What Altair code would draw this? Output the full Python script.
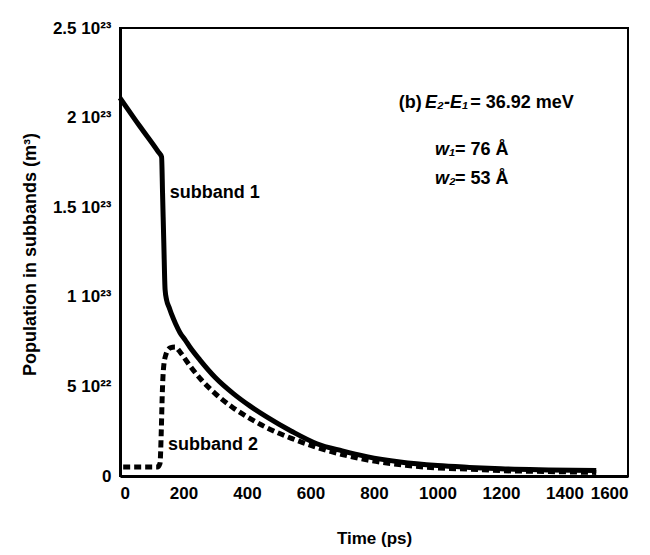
import json
import altair as alt
import pandas as pd

# ---- data (population in units of 1e23 m^-3) ----
time1 = [0, 63, 120, 131, 134, 138, 142, 147, 155, 163, 175, 189, 205, 220, 252, 300, 357, 410, 462, 540, 620, 700, 777, 882, 1000, 1100, 1200, 1350, 1500]
pop1 = [2.11, 1.95, 1.81, 1.78, 1.58, 1.30, 1.04, 0.98, 0.94, 0.90, 0.85, 0.80, 0.76, 0.72, 0.647, 0.55, 0.46, 0.39, 0.33, 0.25, 0.18, 0.14, 0.108, 0.078, 0.058, 0.048, 0.04, 0.034, 0.03]

time2 = [10, 118, 126, 130, 133, 137, 145, 158, 173, 190, 210, 252, 300, 357, 410, 462, 540, 620, 700, 777, 900, 1000, 1100, 1200, 1350, 1500]
pop2 = [0.05, 0.05, 0.07, 0.25, 0.45, 0.60, 0.68, 0.715, 0.72, 0.69, 0.64, 0.545, 0.46, 0.38, 0.32, 0.27, 0.21, 0.16, 0.12, 0.09, 0.06, 0.045, 0.038, 0.03, 0.025, 0.02]

x_ticks = [0, 200, 400, 600, 800, 1000, 1200, 1400, 1600]
y_ticks = [0, 0.5, 1.0, 1.5, 2.0, 2.5]
y_tick_labels = ["0", "5 10²²", "1 10²³", "1.5 10²³", "2 10²³", "2.5 10²³"]

# annotation texts
ann_text = ["(b)", "= 36.92 meV", "= 76 Å", "= 53 Å", "subband 1", "subband 2"]
ann_x = [878, 1103, 1055, 1055, 157, 151]
ann_y = [2.08, 2.08, 1.82, 1.657, 1.58, 0.173]
ital_text = ["E₂-E₁", "w₁", "w₂"]
ital_x = [961, 992, 992]
ital_y = [2.08, 1.82, 1.657]

df1 = pd.DataFrame({"t": time1, "p": pop1})
df2 = pd.DataFrame({"t": time2, "p": pop2})
dfa = pd.DataFrame({"t": ann_x, "p": ann_y, "txt": ann_text})
dfi = pd.DataFrame({"t": ital_x, "p": ital_y, "txt": ital_text})

FONT = "Liberation Sans"

xscale = alt.Scale(domain=[0, 1600], nice=False, zero=False)
yscale = alt.Scale(domain=[0, 2.5], nice=False)

xaxis = alt.Axis(
    values=x_ticks, format="d", title="Time (ps)", grid=False, ticks=False,
    labelFontSize=17, labelFontWeight="bold", labelFont=FONT, labelPadding=9,
    labelColor="black", domain=True, domainWidth=3, domainColor="black",
    titleFont=FONT, titleFontSize=17, titleFontWeight="bold", titleColor="black",
    titleY=62, titleBaseline="middle",
)
yaxis = alt.Axis(
    values=y_ticks, title="Population in subbands (m³)", grid=False, ticks=False,
    labelExpr=f"{json.dumps(y_tick_labels, ensure_ascii=False)}[round(datum.value*2)]",
    labelFontSize=17, labelFontWeight="bold", labelFont=FONT, labelPadding=9,
    labelColor="black", domain=True, domainWidth=3, domainColor="black",
    titleFont=FONT, titleFontSize=18, titleFontWeight="bold", titleColor="black",
    titleX=-90, titleY=226, titleAngle=-90, titleBaseline="middle",
)

base_x = alt.X("t:Q", scale=xscale, axis=xaxis)
base_y = alt.Y("p:Q", scale=yscale, axis=yaxis)

line1 = alt.Chart(df1).mark_line(
    color="black", strokeWidth=5, strokeJoin="round", interpolate="monotone"
).encode(x=base_x, y=base_y)
line2 = alt.Chart(df2).mark_line(
    color="black", strokeWidth=5, strokeDash=[7, 4], strokeJoin="round", interpolate="monotone"
).encode(x="t:Q", y="p:Q")

txt = alt.Chart(dfa).mark_text(
    align="left", baseline="middle", font=FONT, fontSize=18, fontWeight="bold", color="black"
).encode(x="t:Q", y="p:Q", text="txt:N")

itxt = alt.Chart(dfi).mark_text(
    align="left", baseline="middle", font=FONT, fontSize=18, fontWeight="bold",
    fontStyle="italic", color="black"
).encode(x="t:Q", y="p:Q", text="txt:N")

chart = (
    alt.layer(line1, line2, txt, itxt)
    .properties(
        width=508, height=448,
        autosize=alt.AutoSizeParams(type="none"),
        padding={"left": 120, "top": 28, "right": 22, "bottom": 79},
        background="white",
    )
    .configure_view(stroke="black", strokeWidth=2)
)

chart.save("out.html", embed_options={"renderer": "svg", "actions": False})
